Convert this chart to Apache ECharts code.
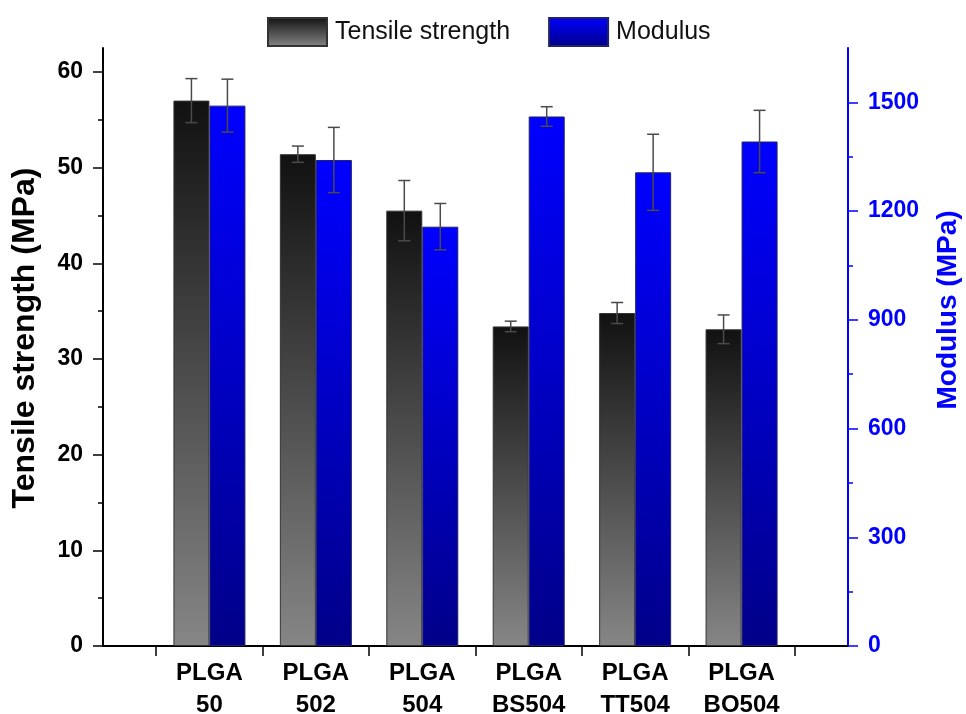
<!DOCTYPE html>
<html>
<head>
<meta charset="utf-8">
<script src="https://cdn.jsdelivr.net/npm/echarts@6/dist/echarts.min.js"></script>
<style>html,body{margin:0;padding:0;background:#fff}#c{width:966px;height:714px}</style>
</head>
<body>
<div id="c"></div>
<script>
// ---- data ----
var categories = ['PLGA\n50', 'PLGA\n502', 'PLGA\n504', 'PLGA\nBS504', 'PLGA\nTT504', 'PLGA\nBO504'];
var tensile = [57.0, 51.4, 45.5, 33.4, 34.8, 33.1];
var tensileErr = [2.3, 0.85, 3.15, 0.55, 1.1, 1.5];
var modulus = [1491, 1341, 1157, 1461, 1307, 1392];
var modulusErr = [73, 90, 64, 27, 105, 86];
var leftTicks = [0, 10, 20, 30, 40, 50, 60];
var leftMinor = [5, 15, 25, 35, 45, 55];
var rightTicks = [0, 300, 600, 900, 1200, 1500];
var rightMinor = [150, 450, 750, 1050, 1350];

// expand categories into slots: boundary, tick, cat, tick, cat, ..., tick, boundary
var slots = [''];
var slotIdx = [];
for (var i = 0; i < categories.length; i++) { slots.push(''); slotIdx.push(slots.length); slots.push(categories[i]); }
slots.push(''); slots.push('');
function expand(vals) {
  var out = slots.map(function () { return '-'; });
  slotIdx.forEach(function (s, k) { out[s] = vals[k]; });
  return out;
}
function errData(vals, errs) {
  return slotIdx.map(function (s, k) { return [s, vals[k], errs[k]]; });
}

var FONT = '"Liberation Sans", Arial, sans-serif';
var BW = 36;
function errRender(offset) {
  return function (params, api) {
    var x = api.value(0), v = api.value(1), e = api.value(2);
    var top = api.coord([x, v + e]);
    var bot = api.coord([x, v - e]);
    var cx = top[0] + offset;
    var cap = 6;
    var st = { stroke: '#4a4a4a', lineWidth: 1.5 };
    return {
      type: 'group',
      children: [
        { type: 'line', shape: { x1: cx, y1: top[1], x2: cx, y2: bot[1] }, style: st },
        { type: 'line', shape: { x1: cx - cap, y1: top[1], x2: cx + cap, y2: top[1] }, style: st },
        { type: 'line', shape: { x1: cx - cap, y1: bot[1], x2: cx + cap, y2: bot[1] }, style: st }
      ]
    };
  };
}
function plain(v) { return String(v); }

var chart = echarts.init(document.getElementById('c'));
chart.setOption({
  animation: false,
  backgroundColor: '#fff',
  textStyle: { fontFamily: FONT },
  legend: {
    left: 262, top: 12,
    icon: 'rect',
    itemWidth: 59, itemHeight: 28, itemGap: 38,
    textStyle: { fontSize: 25, color: '#111', fontFamily: FONT, padding: [0, 0, 0, 3] },
    data: ['Tensile strength', 'Modulus']
  },
  grid: { left: 103, right: 118, top: 48, bottom: 68, containLabel: false, outerBoundsMode: 'none' },
  xAxis: {
    type: 'category', data: slots, boundaryGap: false,
    axisLine: { lineStyle: { color: '#000', width: 2 } },
    axisTick: { show: true, length: 10, lineStyle: { color: '#000', width: 1.5 },
      interval: function (idx) { return idx % 2 === 1; } },
    axisLabel: { interval: 0, color: '#000', fontWeight: 'bold', fontSize: 24, lineHeight: 32, margin: 11, fontFamily: FONT },
    splitLine: { show: false }
  },
  yAxis: [
    { type: 'value', position: 'left', min: 0, max: 62.5,
      axisLine: { show: true, lineStyle: { color: '#000', width: 2 } },
      axisTick: { show: true, length: 10, customValues: leftTicks, lineStyle: { color: '#000', width: 1.5 } },
      axisLabel: { customValues: leftTicks, formatter: plain, color: '#000', fontWeight: 'bold', fontSize: 23, margin: 20, fontFamily: FONT },
      splitLine: { show: false } },
    { type: 'value', position: 'left', min: 0, max: 62.5,
      axisLine: { show: false },
      axisTick: { show: true, length: 5, customValues: leftMinor, lineStyle: { color: '#000', width: 1.5 } },
      axisLabel: { show: false }, splitLine: { show: false } },
    { type: 'value', position: 'right', min: 0, max: 1650,
      axisLine: { show: true, lineStyle: { color: '#0000ff', width: 2 } },
      axisTick: { show: true, length: 10, customValues: rightTicks, lineStyle: { color: '#0000ff', width: 1.5 } },
      axisLabel: { customValues: rightTicks, formatter: plain, color: '#0000ff', fontWeight: 'bold', fontSize: 23, margin: 20, fontFamily: FONT },
      splitLine: { show: false } },
    { type: 'value', position: 'right', min: 0, max: 1650,
      axisLine: { show: false },
      axisTick: { show: true, length: 5, customValues: rightMinor, lineStyle: { color: '#0000ff', width: 1.5 } },
      axisLabel: { show: false }, splitLine: { show: false } }
  ],
  graphic: [
    { type: 'text', x: 25, y: 338, rotation: Math.PI / 2,
      style: { text: 'Tensile strength (MPa)', fontFamily: FONT, fontSize: 32, fontWeight: 'bold', fill: '#000', align: 'center', verticalAlign: 'middle' } },
    { type: 'text', x: 948, y: 310, rotation: Math.PI / 2,
      style: { text: 'Modulus (MPa)', fontFamily: FONT, fontSize: 28, fontWeight: 'bold', fill: '#0000ff', align: 'center', verticalAlign: 'middle' } }
  ],
  series: [
    { name: 'Tensile strength', type: 'bar', yAxisIndex: 0, barWidth: BW, barGap: '0%',
      data: expand(tensile),
      itemStyle: { borderColor: '#333', borderWidth: 1,
        color: new echarts.graphic.LinearGradient(0, 0, 0, 1, [{ offset: 0, color: '#111111' }, { offset: 1, color: '#868686' }]) } },
    { name: 'Modulus', type: 'bar', yAxisIndex: 2, barWidth: BW, barGap: '0%',
      data: expand(modulus),
      itemStyle: { borderColor: '#222266', borderWidth: 1,
        color: new echarts.graphic.LinearGradient(0, 0, 0, 1, [{ offset: 0, color: '#0000ff' }, { offset: 1, color: '#000088' }]) } },
    { type: 'custom', yAxisIndex: 0, renderItem: errRender(-BW / 2), data: errData(tensile, tensileErr), encode: { x: 0, y: 1 }, z: 10, silent: true },
    { type: 'custom', yAxisIndex: 2, renderItem: errRender(BW / 2), data: errData(modulus, modulusErr), encode: { x: 0, y: 1 }, z: 10, silent: true }
  ]
});
</script>
</body>
</html>
